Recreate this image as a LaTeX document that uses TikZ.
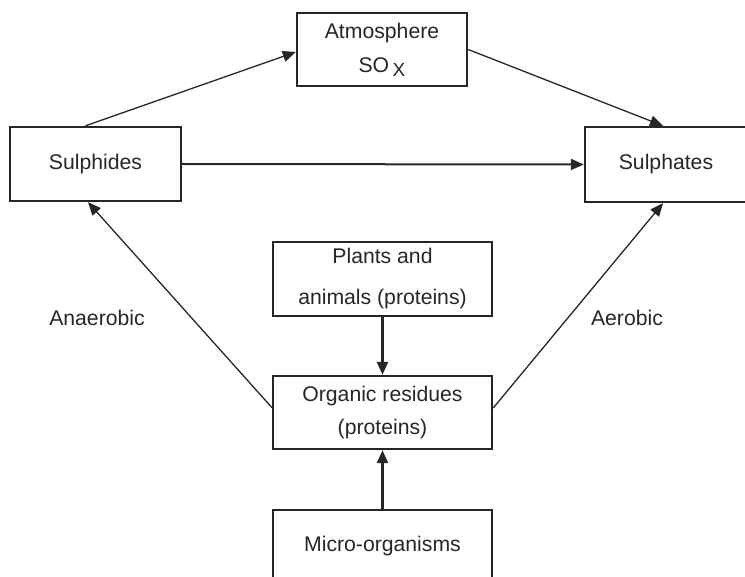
\documentclass[tikz,border=0pt]{standalone}
\usepackage{fontspec}
\setmainfont{Liberation Sans}
\usetikzlibrary{arrows.meta}
\definecolor{ink}{HTML}{262626}
\begin{document}
\begin{tikzpicture}[x=1pt, y=-1pt, font=\fontsize{21.2}{34}\selectfont,
  box/.style={draw=ink, line width=2.4pt, text=ink, align=center, inner sep=0pt, minimum width=219pt, minimum height=74pt},
  link/.style={draw=ink, line width=1.3pt, -{Triangle[length=13pt,width=11pt]}},
  tag/.style={text=ink}]
\useasboundingbox (0,0) rectangle (745,577);
\node[box, minimum width=170pt, minimum height=73pt] (atm) at (382,49.5) {Atmosphere\\SO\,\raisebox{-4pt}{\fontsize{19}{19}\selectfont X}};
\node[box, minimum width=171pt] (sulphides) at (95.5,164) {Sulphides};
\node[box, minimum width=162pt, minimum height=75pt] (sulphates) at (666,164.5) {Sulphates};
\node[box] (plants) at (382.5,279) {Plants and\\[7pt]animals (proteins)};
\node[box, minimum height=73pt] (organic) at (382.5,412.5) {Organic residues\\[-1pt](proteins)};
\node[box, minimum height=72pt] (micro) at (382.5,546) {Micro-organisms};
\node[tag] (anaer) at (97,318) {Anaerobic};
\node[tag] (aer) at (627,318) {Aerobic};
\draw[link] ([xshift=-10pt]sulphides.north) -- ([yshift=-2.5pt]atm.west);
\draw[link] (atm.east) -- ([xshift=-3pt]sulphates.north);
\draw[link, line width=2pt] (sulphides.east) -- (sulphates.west);
\draw[link] ([yshift=5pt]organic.west) -- ([xshift=-7.5pt]sulphides.south);
\draw[link] ([yshift=4.5pt]organic.east) -- ([xshift=-3pt]sulphates.south);
\draw[link, line width=2.5pt] (plants.south) -- (organic.north);
\draw[link, line width=2.5pt] (micro.north) -- (organic.south);
\end{tikzpicture}
\end{document}
